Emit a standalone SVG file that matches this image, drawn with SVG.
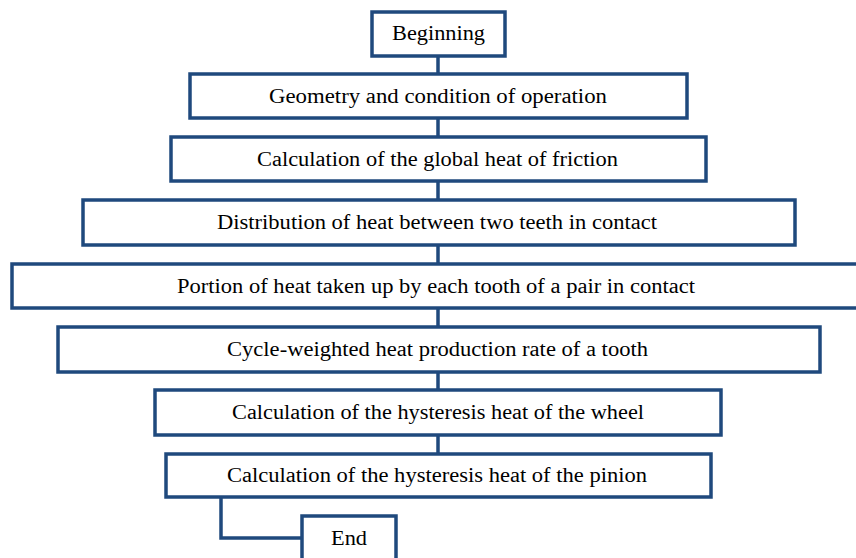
<svg xmlns="http://www.w3.org/2000/svg" width="856" height="558" viewBox="0 0 856 558">
<style>
.b{fill:#fff;stroke:#1F497D;stroke-width:3.5}
.c{fill:none;stroke:#1F497D;stroke-width:3.5}
text{font-family:"Liberation Serif","Times New Roman",serif;font-size:20px;fill:#000;text-anchor:middle}
</style>
<rect width="856" height="558" fill="#fff"/>
<g id="connectors">
<path class="c" d="M438 56V74M438 118V137M438 181V200M438 245V264M438 308V327M438 372V390M438 435V454M221 497V538H302"/>
</g>
<g id="n1"><rect class="b" x="372" y="12" width="133" height="44"/><text x="438.5" y="40" textLength="93" lengthAdjust="spacingAndGlyphs">Beginning</text></g>
<g id="n2"><rect class="b" x="190" y="74" width="497" height="44"/><text x="438" y="103" textLength="338" lengthAdjust="spacingAndGlyphs">Geometry and condition of operation</text></g>
<g id="n3"><rect class="b" x="171" y="137" width="535" height="44"/><text x="437.5" y="166" textLength="361" lengthAdjust="spacingAndGlyphs">Calculation of the global heat of friction</text></g>
<g id="n4"><rect class="b" x="83" y="200" width="712" height="45"/><text x="437" y="229" textLength="440" lengthAdjust="spacingAndGlyphs">Distribution of heat between two teeth in contact</text></g>
<g id="n5"><rect class="b" x="12" y="264" width="850" height="44"/><text x="436" y="293" textLength="518" lengthAdjust="spacingAndGlyphs">Portion of heat taken up by each tooth of a pair in contact</text></g>
<g id="n6"><rect class="b" x="58" y="327" width="762" height="45"/><text x="437.5" y="356" textLength="421" lengthAdjust="spacingAndGlyphs">Cycle-weighted heat production rate of a tooth</text></g>
<g id="n7"><rect class="b" x="155" y="390" width="566" height="45"/><text x="438" y="419" textLength="412" lengthAdjust="spacingAndGlyphs">Calculation of the hysteresis heat of the wheel</text></g>
<g id="n8"><rect class="b" x="166" y="454" width="545" height="43"/><text x="437" y="482" textLength="420" lengthAdjust="spacingAndGlyphs">Calculation of the hysteresis heat of the pinion</text></g>
<g id="n9"><rect class="b" x="302" y="516" width="94" height="50"/><text x="349" y="545" textLength="36" lengthAdjust="spacingAndGlyphs">End</text></g>
</svg>
